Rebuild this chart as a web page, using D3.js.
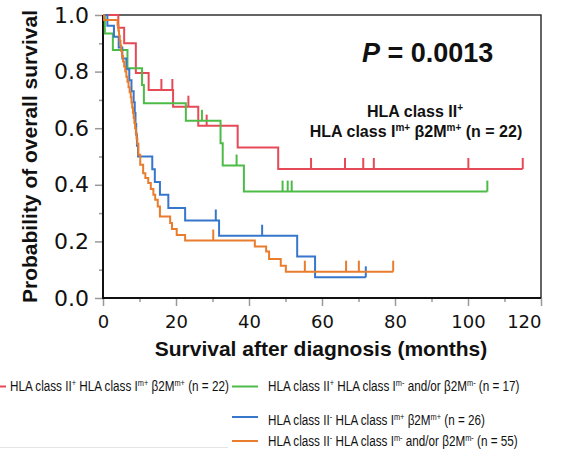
<!DOCTYPE html>
<html>
<head>
<meta charset="utf-8">
<script src="https://cdn.jsdelivr.net/npm/d3@7/dist/d3.min.js"></script>
<style>
html,body{margin:0;padding:0;background:#fff;}
svg{display:block;}
</style>
</head>
<body>
<svg id="chart" width="573" height="449"></svg>
<script>
// ---------- data ----------
const xTicks = [0, 20, 40, 60, 80, 100, 120];
const xMinorTicks = [10, 30, 50, 70, 90, 110];
const yTicks = [0, 0.2, 0.4, 0.6, 0.8, 1.0];
const yMinorTicks = [0.1, 0.3, 0.5, 0.7, 0.9];

const redTimes = [0, 4.2, 5.8, 9.0, 12.5, 19.2, 26.1, 36.9, 48.0];
const redSurv  = [1, 0.955, 0.90, 0.795, 0.735, 0.676, 0.609, 0.532, 0.456];
const redCensor = [16.0, 19.0, 23.4, 28.4, 57.0, 66.3, 71.3, 74.2, 100.1, 115.0];
const redEnd = 115.0;

const greenTimes = [0, 0.5, 2.7, 6.7, 10.7, 11.2, 22.7, 32.2, 32.8, 38.6];
const greenSurv  = [1, 0.935, 0.876, 0.812, 0.753, 0.688, 0.626, 0.547, 0.468, 0.376];
const greenCensor = [27.1, 36.6, 49.2, 50.6, 51.7, 105.3];
const greenEnd = 105.3;

const blueTimes = [0, 1.2, 3.0, 4.3, 5.3, 6.4, 7.2, 7.8, 8.4, 8.7, 8.9, 9.1, 9.3, 9.6, 13.5, 14.2, 15.6, 17.9, 22.5, 31.8, 53.2, 58.1];
const blueSurv  = [1, 0.962, 0.923, 0.885, 0.846, 0.808, 0.769, 0.731, 0.692, 0.654, 0.615, 0.577, 0.538, 0.5, 0.455, 0.41, 0.365, 0.318, 0.274, 0.22, 0.147, 0.073];
const blueCensor = [30.9, 43.6, 72.0];
const blueEnd = 72.0;

const orangeTimes = [0, 0.3, 4.0, 4.2, 4.4, 4.6, 4.8, 5.0, 5.2, 5.5, 5.8, 6.1, 6.4, 6.7, 7.0, 7.3, 7.6, 7.8, 8.0, 8.2, 8.4, 8.6, 8.8, 9.0, 9.2, 9.4, 9.7, 10.2, 11.0, 11.6, 12.4, 13.1, 13.8, 14.3, 15.0, 15.6, 18.4, 18.9, 20.2, 22.5, 41.6, 44.7, 45.5, 48.7, 50.1];
const orangeSurv  = [1, 0.982, 0.964, 0.945, 0.927, 0.909, 0.891, 0.873, 0.855, 0.836, 0.818, 0.800, 0.782, 0.764, 0.745, 0.727, 0.709, 0.691, 0.673, 0.655, 0.636, 0.618, 0.600, 0.582, 0.564, 0.545, 0.506, 0.471, 0.441, 0.424, 0.406, 0.385, 0.365, 0.347, 0.323, 0.288, 0.265, 0.244, 0.223, 0.203, 0.182, 0.164, 0.138, 0.114, 0.093];
const orangeCensor = [30.2, 55.3, 66.6, 70.1, 79.5];
const orangeEnd = 79.5;

const seriesNames = ["red", "green", "blue", "orange"];
const seriesColors = ["#e64a57", "#4dbb48", "#3677cc", "#e97d2d"];

const legendLabels = [
  [["HLA class II", 0], ["+", 1], [" HLA class I", 0], ["m+", 1], [" \u03B22M", 0], ["m+", 1], [" (n = 22)", 0]],
  [["HLA class II", 0], ["+", 1], [" HLA class I", 0], ["m-", 1], [" and/or \u03B22M", 0], ["m-", 1], ["  (n = 17)", 0]],
  [["HLA class II", 0], ["-", 1], [" HLA class I", 0], ["m+", 1], [" \u03B22M", 0], ["m+", 1], [" (n = 26)", 0]],
  [["HLA class II", 0], ["-", 1], [" HLA class I", 0], ["m-", 1], [" and/or \u03B22M", 0], ["m-", 1], [" (n = 55)", 0]]
];
const annotLine1 = [["HLA class II", 0], ["+", 1]];
const annotLine2 = [["HLA class I", 0], ["m+", 1], [" \u03B22M", 0], ["m+", 1], [" (n = 22)", 0]];
const pLabel = "P";
const pValue = " = 0.0013";
const xTitle = "Survival after diagnosis (months)";
const yTitle = "Probability of overall survival";

// ---------- build series ----------
const series = [
  {times: redTimes, surv: redSurv, censor: redCensor, end: redEnd},
  {times: greenTimes, surv: greenSurv, censor: greenCensor, end: greenEnd},
  {times: blueTimes, surv: blueSurv, censor: blueCensor, end: blueEnd},
  {times: orangeTimes, surv: orangeSurv, censor: orangeCensor, end: orangeEnd}
].map((s, i) => {
  const pts = s.times.map((t, j) => [t, s.surv[j]]);
  pts.push([s.end, s.surv[s.surv.length - 1]]);
  return {...s, pts, color: seriesColors[i], name: seriesNames[i]};
});

function survAt(s, t) {
  let v = s.surv[0];
  for (let j = 0; j < s.times.length; j++) if (s.times[j] <= t) v = s.surv[j];
  return v;
}

// ---------- layout ----------
const svg = d3.select("#chart");
const x = d3.scaleLinear().domain([0, 120]).range([103, 541]);
const y = d3.scaleLinear().domain([0, 1]).range([298, 15]);
const FONT = "'Liberation Sans', Arial, sans-serif";
const TICKFONT = "'DejaVu Sans', Verdana, sans-serif";

// frame (top & right)
svg.append("path")
  .attr("d", `M${x(0)},${y(1)}H${x(120)}V${y(0)}`)
  .attr("fill", "none").attr("stroke", "#333").attr("stroke-width", 1.5);

// axes
const xAxis = svg.append("g").attr("transform", `translate(0,${y(0)})`)
  .call(d3.axisBottom(x).tickValues(xTicks).tickSize(8).tickFormat(d3.format("d")));
const xAxisMinor = svg.append("g").attr("transform", `translate(0,${y(0)})`)
  .call(d3.axisBottom(x).tickValues(xMinorTicks).tickSize(4).tickFormat(""));
const yAxis = svg.append("g").attr("transform", `translate(${x(0)},0)`)
  .call(d3.axisLeft(y).tickValues(yTicks).tickSize(8).tickFormat(d3.format(".1f")));
const yAxisMinor = svg.append("g").attr("transform", `translate(${x(0)},0)`)
  .call(d3.axisLeft(y).tickValues(yMinorTicks).tickSize(4).tickFormat(""));

[xAxis, xAxisMinor, yAxis, yAxisMinor].forEach(g => {
  g.select(".domain").remove();
  g.selectAll(".tick line").attr("stroke", "#999").attr("stroke-width", 1.5);
});
xAxis.selectAll(".tick text")
  .attr("font-family", TICKFONT).attr("font-size", 18).attr("fill", "#111").attr("dy", null).attr("y", 30);
xAxis.selectAll(".tick text").filter(d => d === 120).attr("text-anchor", "end").attr("dx", 0);
yAxis.selectAll(".tick text")
  .attr("font-family", TICKFONT).attr("font-size", 22).attr("fill", "#111").attr("x", -14);

// axis lines (black, bold)
svg.append("line").attr("x1", x(0)).attr("x2", x(0)).attr("y1", y(1)).attr("y2", y(0) + 1)
  .attr("stroke", "#111").attr("stroke-width", 2);
svg.append("line").attr("x1", x(0) - 1).attr("x2", x(120)).attr("y1", y(0)).attr("y2", y(0))
  .attr("stroke", "#111").attr("stroke-width", 2);

// curves
const line = d3.line().x(d => x(d[0])).y(d => y(d[1])).curve(d3.curveStepAfter);
const curves = svg.append("g");
series.forEach(s => {
  curves.append("path").attr("d", line(s.pts))
    .attr("fill", "none").attr("stroke", s.color).attr("stroke-width", 2);
  curves.selectAll(null).data(s.censor).enter().append("line")
    .attr("x1", d => x(d)).attr("x2", d => x(d))
    .attr("y1", d => y(survAt(s, d)))
    .attr("y2", d => y(survAt(s, d)) - 11)
    .attr("stroke", s.color).attr("stroke-width", 2);
});

// rich text helper
function rich(sel, segs, supSize, supRise) {
  segs.forEach((seg, i) => {
    const prevSup = i > 0 && segs[i - 1][1];
    const ts = sel.append("tspan").text(seg[0]);
    if (seg[1]) ts.attr("font-size", supSize).attr("dy", -supRise);
    else if (prevSup) ts.attr("dy", supRise);
  });
}

// P value
const pt = svg.append("text").attr("x", 362).attr("y", 62)
  .attr("font-family", FONT).attr("font-size", 27).attr("font-weight", "bold").attr("fill", "#111");
pt.append("tspan").attr("font-style", "italic").text(pLabel);
pt.append("tspan").text(pValue);

// annotation
const a1 = svg.append("text").attr("x", 415).attr("y", 117).attr("text-anchor", "middle")
  .attr("font-family", FONT).attr("font-size", 16).attr("font-weight", "bold").attr("fill", "#111");
rich(a1, annotLine1, 10, 6);
const a2 = svg.append("text").attr("x", 416).attr("y", 137).attr("text-anchor", "middle")
  .attr("font-family", FONT).attr("font-size", 16).attr("font-weight", "bold").attr("fill", "#111");
rich(a2, annotLine2, 10, 6);

// axis titles
svg.append("text").attr("x", 321).attr("y", 356).attr("text-anchor", "middle")
  .attr("font-family", FONT).attr("font-size", 21).attr("font-weight", "bold").attr("fill", "#111")
  .text(xTitle);
svg.append("text").attr("transform", "translate(37,156.5) rotate(-90)").attr("text-anchor", "middle")
  .attr("font-family", FONT).attr("font-size", 21).attr("font-weight", "bold").attr("fill", "#111")
  .text(yTitle);

// legend
const legendPos = [
  {lx1: -2, lx2: 6, ly: 386.5, tx: 10, ty: 391},
  {lx1: 232, lx2: 258, ly: 386.5, tx: 268, ty: 391},
  {lx1: 232, lx2: 258, ly: 417, tx: 268, ty: 425},
  {lx1: 232, lx2: 258, ly: 441, tx: 268, ty: 446}
];
legendLabels.forEach((lab, i) => {
  const p = legendPos[i];
  svg.append("line").attr("x1", p.lx1).attr("x2", p.lx2).attr("y1", p.ly).attr("y2", p.ly)
    .attr("stroke", seriesColors[i]).attr("stroke-width", 2);
  const t = svg.append("text").attr("transform", `translate(${p.tx},${p.ty}) scale(0.78,1)`)
    .attr("font-family", FONT).attr("font-size", 15).attr("fill", "#111");
  rich(t, lab, 9.5, 5.5);
});
// faint crop line at the bottom
svg.append("line").attr("x1", 0).attr("x2", 228).attr("y1", 447.5).attr("y2", 447.5)
  .attr("stroke", "#e4e4e4").attr("stroke-width", 1);
</script>
</body>
</html>
